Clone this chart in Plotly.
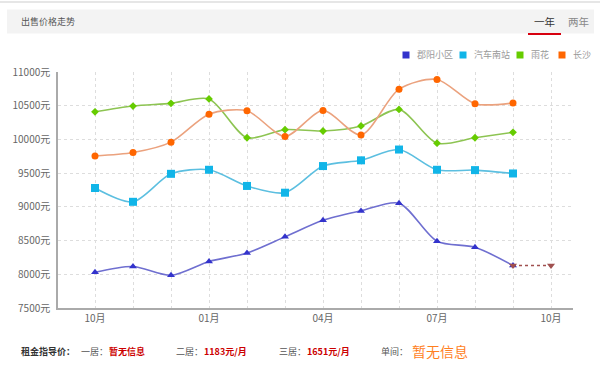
import plotly.graph_objects as go

# ---- data ----
months = ["10月", "11月", "12月", "01月", "02月", "03月", "04月", "05月", "06月", "07月", "08月", "09月", "10月"]
tick_labels = ["10月", "01月", "04月", "07月", "10月"]
tick_index = [0, 3, 6, 9, 12]

series_names = ["郡阳小区", "汽车南站", "雨花", "长沙"]
junyang = [8030, 8115, 7985, 8190, 8315, 8555, 8800, 8940, 9055, 8490, 8400, 8130]
qichenanzhan = [9280, 9075, 9490, 9550, 9310, 9210, 9605, 9690, 9850, 9550, 9545, 9495]
yuhua = [10410, 10495, 10535, 10600, 10025, 10145, 10125, 10200, 10445, 9945, 10025, 10105]
changsha = [9755, 9805, 9960, 10375, 10425, 10045, 10430, 10065, 10745, 10890, 10530, 10540]
forecast = [8130, 8130]  # dashed projection for 郡阳小区

y_ticks = [7500, 8000, 8500, 9000, 9500, 10000, 10500, 11000]

# ---- layout geometry (pixels) ----
W, H = 600, 367
L, R, T, B = 58, 573, 72, 308


def X(px):
    return (px - L) / (R - L)


def Y(py):
    return (B - py) / (B - T)


idx = list(range(len(months)))
data_idx = idx[:12]

line_colors = ["#6f6fd0", "#5cbfe0", "#8dc452", "#eba27e"]
marker_colors = ["#3333cc", "#11b5e8", "#66cc00", "#ff6600"]
symbols = ["triangle-up", "square", "diamond", "circle"]
sizes = [7, 8, 6, 7]
values = [junyang, qichenanzhan, yuhua, changsha]

fig = go.Figure()

for name, vals, lc, mc, sym, sz in zip(series_names, values, line_colors, marker_colors, symbols, sizes):
    fig.add_trace(go.Scatter(
        x=data_idx, y=vals, name=name, mode="lines+markers",
        line=dict(color=lc, width=1.6, shape="spline", smoothing=0.8),
        marker=dict(symbol=sym, size=sz, color=mc),
        showlegend=False, hoverinfo="x+y",
    ))

fig.add_trace(go.Scatter(
    x=[idx[11], idx[12]], y=forecast, mode="lines+markers",
    line=dict(color="#a0504f", width=1.5, dash="dot"),
    marker=dict(symbol="triangle-down", size=7, color="#a0504f"),
    showlegend=False,
))

fig.update_xaxes(
    range=[(L - 95) / 38, (R - 95) / 38],
    tickmode="array", tickvals=tick_index, ticktext=tick_labels,
    showgrid=True, gridcolor="#dddddd", griddash="dot", gridwidth=1,
    minor=dict(dtick=1, tick0=0, showgrid=True, gridcolor="#dddddd", griddash="dot"),
    showline=True, linecolor="#aaaaaa", linewidth=1.5,
    zeroline=False, ticks="",
    tickfont=dict(family="Noto Sans CJK SC", size=10, color="#666666"),
    fixedrange=True,
)
fig.update_yaxes(
    range=[7500, 11000],
    tickmode="array", tickvals=y_ticks, ticktext=[f"{v}元" for v in y_ticks],
    showgrid=True, gridcolor="#dddddd", griddash="dot", gridwidth=1,
    showline=True, linecolor="#aaaaaa", linewidth=1.5,
    zeroline=False, ticks="", ticklabelstandoff=4,
    tickfont=dict(family="Noto Sans CJK SC", size=10, color="#666666"),
    fixedrange=True,
)

shapes = []
annotations = []

# header band
shapes.append(dict(type="rect", xref="paper", yref="paper", x0=X(7), x1=X(594), y0=Y(9.5), y1=Y(33.5),
                   fillcolor="#f3f3f3", line=dict(width=0), layer="below"))
shapes.append(dict(type="line", xref="paper", yref="paper", x0=X(0), x1=X(600), y0=Y(2), y1=Y(2),
                   line=dict(color="#e6e6e6", width=2)))
shapes.append(dict(type="line", xref="paper", yref="paper", x0=X(528), x1=X(561), y0=Y(34), y1=Y(34),
                   line=dict(color="#d7000f", width=2)))
annotations.append(dict(text="出售价格走势", xref="paper", yref="paper", x=X(19), y=Y(22),
                        xanchor="left", yanchor="middle", showarrow=False,
                        font=dict(family="Noto Sans CJK SC", size=9, color="#555555")))
annotations.append(dict(text="一年", xref="paper", yref="paper", x=X(544), y=Y(22),
                        xanchor="center", yanchor="middle", showarrow=False,
                        font=dict(family="Noto Sans CJK SC", size=10.5, color="#333333")))
annotations.append(dict(text="两年", xref="paper", yref="paper", x=X(578), y=Y(22),
                        xanchor="center", yanchor="middle", showarrow=False,
                        font=dict(family="Noto Sans CJK SC", size=10.5, color="#888888")))

# legend
legend_sq_x = [406, 463, 520, 562]
for name, mc, sx in zip(series_names, marker_colors, legend_sq_x):
    shapes.append(dict(type="rect", xref="paper", yref="paper", x0=X(sx - 3.5), x1=X(sx + 3.5),
                       y0=Y(58.5), y1=Y(51.5), fillcolor=mc, line=dict(width=0)))
    annotations.append(dict(text=name, xref="paper", yref="paper", x=X(sx + 9), y=Y(55),
                            xanchor="left", yanchor="middle", showarrow=False,
                            font=dict(family="Noto Sans CJK SC", size=9, color="#999999")))

# bottom rent info
ty = 351
bottom_items = [
    ("<b>租金指导价：</b>", 19, 9, "#333333"),
    ("一居：", 79, 9, "#555555"),
    ("<b>暂无信息</b>", 107, 9, "#cc0000"),
    ("二居：", 174, 9, "#555555"),
    ("<b>1183元/月</b>", 202, 9, "#cc0000"),
    ("三居：", 277, 9, "#555555"),
    ("<b>1651元/月</b>", 305, 9, "#cc0000"),
    ("单间：", 379, 9, "#555555"),
    ("暂无信息", 410, 14, "#ff7f1f"),
]
for txt, px, fs, col in bottom_items:
    annotations.append(dict(text=txt, xref="paper", yref="paper", x=X(px), y=Y(ty),
                            xanchor="left", yanchor="middle", showarrow=False,
                            font=dict(family="Noto Sans CJK SC", size=fs, color=col)))

fig.update_layout(
    width=W, height=H,
    margin=dict(l=L, r=W - R, t=T, b=H - B, pad=0),
    paper_bgcolor="#ffffff", plot_bgcolor="#ffffff",
    shapes=shapes, annotations=annotations,
    showlegend=False,
    font=dict(family="Noto Sans CJK SC"),
)

fig.write_html("out.html", config={"displayModeBar": False},
               post_script="document.body.style.margin='0';document.body.style.overflow='hidden';")
